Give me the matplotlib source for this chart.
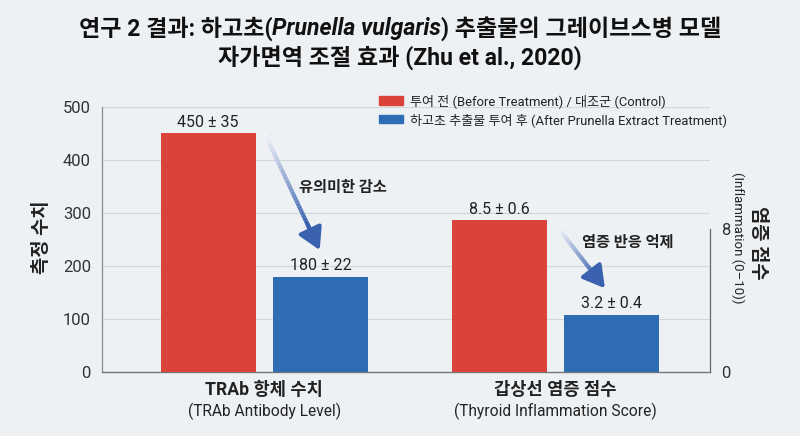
import matplotlib
matplotlib.use('Agg')
import matplotlib.pyplot as plt
import numpy as np
from matplotlib.collections import LineCollection
from matplotlib.colors import to_rgb
from matplotlib.patches import Patch

plt.rcParams['font.family'] = ['Roboto', 'Noto Sans CJK KR', 'DejaVu Sans']

# ---------------- data ----------------
categories_ko = ['TRAb 항체 수치', '갑상선 염증 점수']
categories_en = ['(TRAb Antibody Level)', '(Thyroid Inflammation Score)']
series_names = ['투여 전 (Before Treatment) / 대조군 (Control)',
                '하고초 추출물 투여 후 (After Prunella Extract Treatment)']
before_vals = [450, 8.5]
before_err = [35, 0.6]
after_vals = [180, 3.2]
after_err = [22, 0.4]
left_ticks = [0, 100, 200, 300, 400, 500]
right_ticks = [0, 8]
annot_texts = ['유의미한 감소', '염증 반응 억제']

BG = '#eef1f4'
RED = '#d9433a'
BLUE = '#2e6db4'
ARROW = '#3a62ae'
TXT = '#222222'

fig = plt.figure(figsize=(8, 4.36), dpi=100, facecolor=BG)
ax = fig.add_axes([0.1275, 0.1468, 0.76, 0.6078])
ax.set_facecolor(BG)
ax2 = ax.twinx()

ax.set_xlim(-0.558, 1.531)
ax.set_ylim(0, 500)
ax2.set_ylim(0, 14.8)

w = 0.326
off = 0.193
x = np.arange(len(categories_ko))

ax.bar(x[0] - off, before_vals[0], w, color=RED, zorder=3)
ax.bar(x[0] + off, after_vals[0], w, color=BLUE, zorder=3)
ax2.bar(x[1] - off, before_vals[1], w, color=RED, zorder=3)
ax2.bar(x[1] + off, after_vals[1], w, color=BLUE, zorder=3)

# value labels
ax.text(x[0] - off, before_vals[0] + 6, f'{before_vals[0]} ± {before_err[0]}',
        ha='center', va='bottom', fontsize=11.5, color=TXT)
ax.text(x[0] + off, after_vals[0] + 6, f'{after_vals[0]} ± {after_err[0]}',
        ha='center', va='bottom', fontsize=11.5, color=TXT)
ax2.text(x[1] - off, before_vals[1] + 0.18, f'{before_vals[1]} ± {before_err[1]}',
         ha='center', va='bottom', fontsize=11.5, color=TXT)
ax2.text(x[1] + off, after_vals[1] + 0.18, f'{after_vals[1]} ± {after_err[1]}',
         ha='center', va='bottom', fontsize=11.5, color=TXT)

# axes styling
ax.set_yticks(left_ticks)
ax.set_xticks([])
ax.yaxis.grid(True, color='#d3d7dc', lw=0.8)
ax.set_axisbelow(True)
ax.tick_params(axis='y', length=0, pad=8, labelsize=12, labelcolor='#333333')
for s in ['top', 'right']:
    ax.spines[s].set_visible(False)
ax.spines['left'].set_color('#8a8a8a')
ax.spines['bottom'].set_color('#777777')
ax.spines['left'].set_linewidth(0.9)
ax.spines['bottom'].set_linewidth(1.0)

ax2.set_yticks(right_ticks)
ax2.tick_params(axis='y', length=0, pad=8, labelsize=12, labelcolor='#333333')
for s in ['top', 'left', 'bottom']:
    ax2.spines[s].set_visible(False)
ax2.spines['right'].set_bounds(0, 8)
ax2.spines['right'].set_color('#666666')
ax2.spines['right'].set_linewidth(0.9)

# category labels
for i in range(len(categories_ko)):
    ax.text(x[i], -0.033, categories_ko[i], transform=ax.get_xaxis_transform(),
            ha='center', va='top', fontsize=12.7, fontweight='bold', color=TXT)
    ax.text(x[i], -0.115, categories_en[i], transform=ax.get_xaxis_transform(),
            ha='center', va='top', fontsize=11.2, color=TXT)

# axis labels
fig.text(42 / 800, 1 - 237 / 436, '측정 수치', rotation=90, ha='center', va='center',
         fontsize=13.5, fontweight='bold', color=TXT)
fig.text(738 / 800, 1 - 238 / 436, '(Inflammation (0–10))', rotation=270, ha='center',
         va='center', fontsize=9.5, color=TXT)
fig.text(758 / 800, 1 - 243 / 436, '염증 점수', rotation=270, ha='center', va='center',
         fontsize=13.5, fontweight='bold', color=TXT)

# legend
handles = [Patch(color=RED), Patch(color=BLUE)]
leg = fig.legend(handles, series_names, loc='upper left',
                 bbox_to_anchor=(379 / 800, 1 - 94 / 436), frameon=False,
                 fontsize=9.4, handlelength=1.8, handleheight=0.6,
                 handletextpad=0.55, labelspacing=0.35, borderpad=0, borderaxespad=0)
for t in leg.get_texts():
    t.set_color(TXT)


# gradient arrows
def grad_arrow(a, start, end, n=40):
    xs = np.linspace(start[0], end[0], n + 1)
    ys = np.linspace(start[1], end[1], n + 1)
    frac = 0.86
    segs = []
    cols = []
    c1 = np.array(to_rgb('#f2f5fa'))
    c2 = np.array(to_rgb(ARROW))
    for k in range(n):
        t = k / n
        if t > frac:
            break
        segs.append([(xs[k], ys[k]), (xs[k + 1], ys[k + 1])])
        cols.append(c1 + (c2 - c1) * min(1, t / 0.75))
    lc = LineCollection(segs, colors=cols, linewidths=3, zorder=4, capstyle='butt')
    a.add_collection(lc)
    sx = start[0] + (end[0] - start[0]) * 0.78
    sy = start[1] + (end[1] - start[1]) * 0.78
    a.annotate('', xy=end, xytext=(sx, sy),
               arrowprops=dict(arrowstyle='-|>,head_length=1.3,head_width=0.75',
                               color=ARROW, lw=3, shrinkA=0, shrinkB=0), zorder=5)


grad_arrow(ax, (0.0, 451), (0.19, 230))
grad_arrow(ax, (1.009, 272), (1.17, 158))

ax.text(0.27, 347, annot_texts[0], ha='center', va='center', fontsize=11,
        fontweight='bold', color=TXT, zorder=6)
ax.text(1.25, 245, annot_texts[1], ha='center', va='center', fontsize=11,
        fontweight='bold', color=TXT, zorder=6)


# title with mixed styles
def centered_pieces(y, pieces, size):
    texts = []
    for s, st in pieces:
        t = fig.text(0, y, s, fontsize=size, fontweight='bold', fontstyle=st,
                     ha='left', va='center', color='#111111')
        texts.append(t)
    fig.canvas.draw()
    r = fig.canvas.get_renderer()
    widths = [t.get_window_extent(r).width for t in texts]
    W = fig.bbox.width
    x0 = (W - sum(widths)) / 2
    for t, wd in zip(texts, widths):
        t.set_x(x0 / W)
        x0 += wd


centered_pieces(1 - 29 / 436, [('연구 2 결과: 하고초(', 'normal'),
                               ('Prunella vulgaris', 'italic'),
                               (') 추출물의 그레이브스병 모델', 'normal')], 16.6)
centered_pieces(1 - 58 / 436, [('자가면역 조절 효과 (Zhu et al., 2020)', 'normal')], 16.6)

fig.savefig('out.png', dpi=100, facecolor=BG)
